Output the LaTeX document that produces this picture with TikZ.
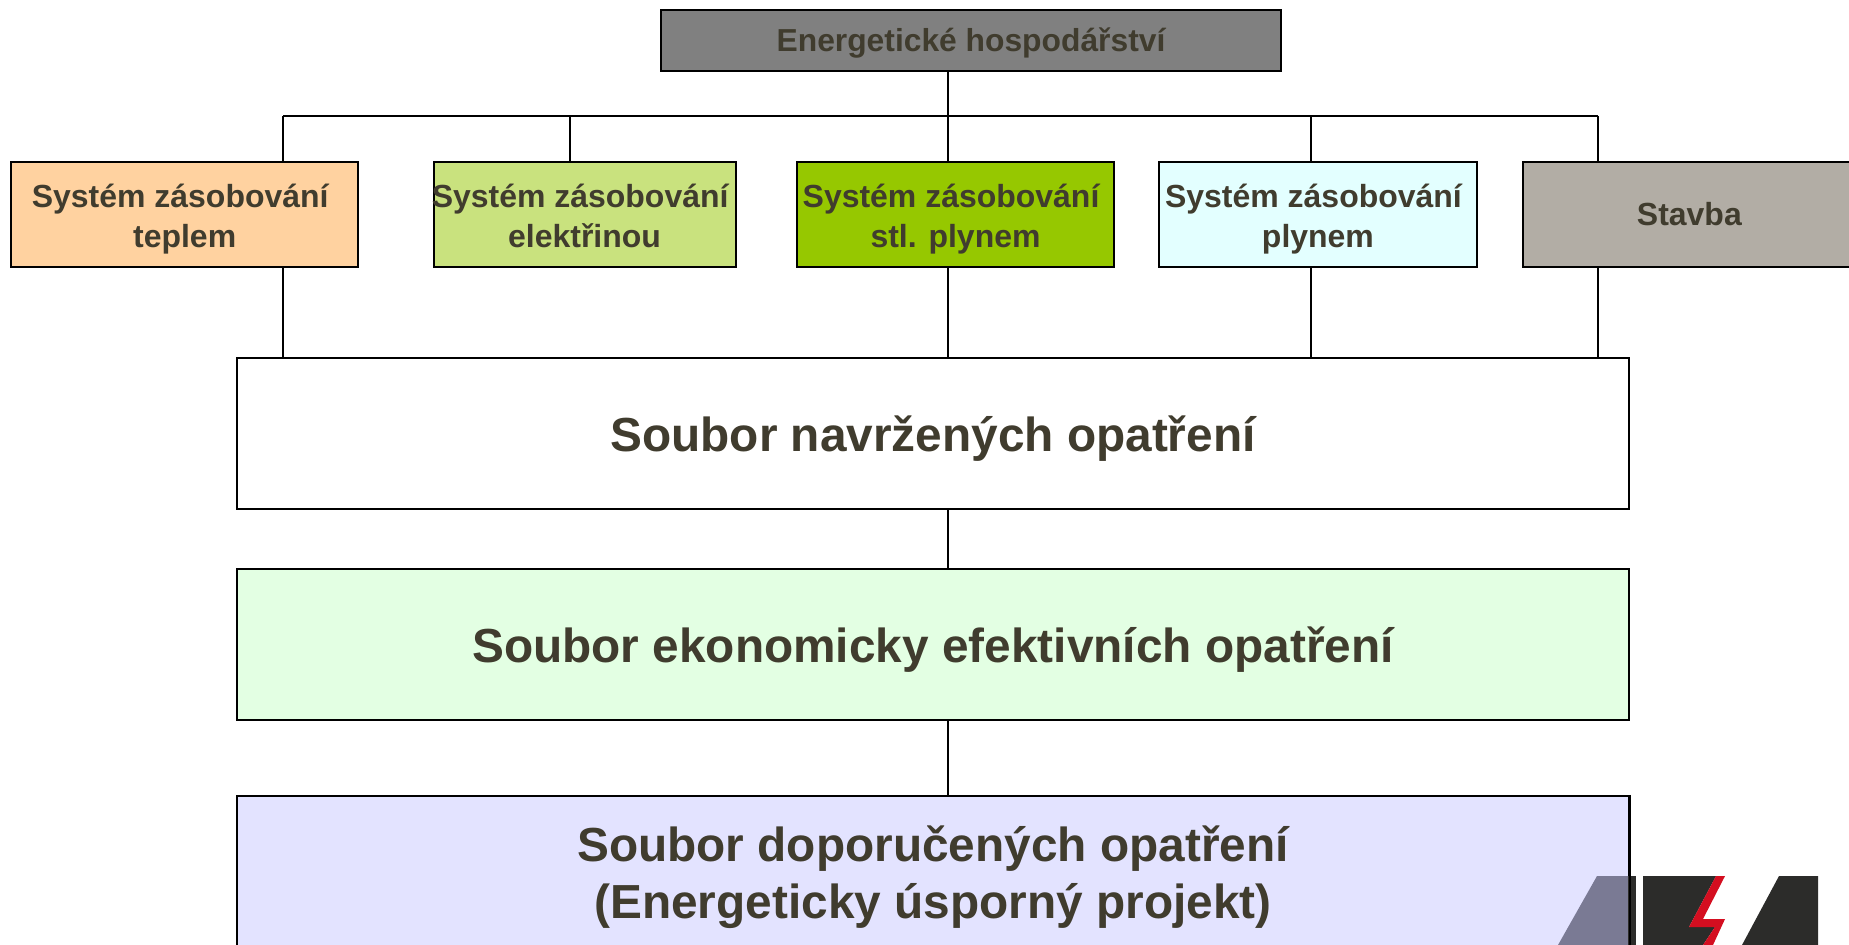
\documentclass[tikz,border=0pt]{standalone}
\usepackage{fontspec}
\setmainfont{Liberation Sans}
\usepackage{xcolor}
\usetikzlibrary{positioning}
\definecolor{mytext}{HTML}{403C2E}
\definecolor{mylogo}{HTML}{2C2C2A}
\definecolor{myred}{HTML}{D40E20}
\newcommand{\mytop}{\vrule height0.96\baselineskip width 0pt\relax}
\newcommand{\mywide}[1]{\mytop\makebox[0pt]{#1\ }}
\tikzset{
    mynode/.style={rectangle,draw=black,line width=1.1pt,text=mytext,font=\bfseries,align=center,inner sep=0pt},
    mysmall/.style={mynode,minimum height=2.1cm,font=\fontsize{18.2}{22.4}\selectfont\bfseries},
    mybig/.style={mynode,minimum width=27.84cm,minimum height=3.02cm,font=\fontsize{27.2}{32}\selectfont\bfseries},
    myline/.style={draw=black,line width=1.1pt}
}

\begin{document}
\begin{tikzpicture}[x=0.02cm,y=-0.02cm,on grid]
    \useasboundingbox (0,0) rectangle (1849,945);
    \clip (0,0) rectangle (1849,945);
    \fill[white] (0,0) rectangle (1849,945);
    \node[mynode,minimum width=12.4cm,minimum height=1.22cm,fill={rgb,255:red,128;green,128;blue,128},font=\fontsize{18.1}{19.5}\selectfont\bfseries] (11) at (971,40.5) {\mytop Energetické hospodářství\strut};
    \node[mysmall,minimum width=6.94cm,fill={rgb,255:red,255;green,210;blue,160}] (21) [below left=3.48cm and 15.73cm of 11] {\mywide{Systém zásobování}\\teplem\strut};
    \node[mysmall,minimum width=6.04cm,fill={rgb,255:red,201;green,226;blue,126}] (22) [right=8cm of 21] {\mywide{Systém zásobování}\\elektřinou\strut};
    \node[mysmall,minimum width=6.34cm,fill={rgb,255:red,150;green,200;blue,0}] (23) [right=7.42cm of 22] {\mywide{Systém zásobování}\\stl. plynem\strut};
    \node[mysmall,minimum width=6.36cm,fill={rgb,255:red,227;green,255;blue,255}] (24) [right=7.25cm of 23] {\mywide{Systém zásobování}\\plynem\strut};
    \node[mysmall,minimum width=6.66cm,fill={rgb,255:red,178;green,173;blue,165},font=\fontsize{18.2}{19}\selectfont\bfseries] (25) [right=7.43cm of 24] {\mytop Stavba\strut};
    \node[mybig,fill=white] (31) [below right=4.38cm and 14.97cm of 21] {\mytop Soubor navržených opatření\strut};
    \node[mybig,fill={rgb,255:red,227;green,255;blue,227}] (32) [below=4.22cm of 31] {\mytop Soubor ekonomicky efektivních opatření\strut};
    \node[mybig,fill={rgb,255:red,227;green,227;blue,255}] (33) [below=4.54cm of 32] {\mytop Soubor doporučených opatření\\(Energeticky úsporný projekt)\strut};
    \coordinate (t1) at (283,116);
    \coordinate (t2) at (570,116);
    \coordinate (t3) at (948,116);
    \coordinate (t4) at (1311,116);
    \coordinate (t5) at (1598,116);
    \draw[myline] (t1) -- (t5);
    \path (t3 |- 11.south) edge [myline] (t3)
          (t1) edge [myline] (t1 |- 21.north)
          (t2) edge [myline] (t2 |- 22.north)
          (t3) edge [myline] (t3 |- 23.north)
          (t4) edge [myline] (t4 |- 24.north)
          (t5) edge [myline] (t5 |- 25.north)
          (t1 |- 21.south) edge [myline] (t1 |- 31.north)
          (t3 |- 23.south) edge [myline] (t3 |- 31.north)
          (t4 |- 24.south) edge [myline] (t4 |- 31.north)
          (t5 |- 25.south) edge [myline] (t5 |- 31.north)
          (t3 |- 31.south) edge [myline] (t3 |- 32.north)
          (t3 |- 32.south) edge [myline] (t3 |- 33.north);
    \fill[fill={rgb,255:red,122;green,122;blue,148}] (1597,876) -- (1628,876) -- (1628,945) -- (1558,945) -- cycle;
    \fill[mylogo] (1628,876) -- (1636,876) -- (1636,945) -- (1628,945) -- cycle;
    \fill[mylogo] (1643,876) -- (1716,876) -- (1689,927) -- (1715,927) -- (1703,945) -- (1643,945) -- cycle;
    \fill[mylogo] (1779,876) -- (1818,876) -- (1818,945) -- (1742,945) -- cycle;
    \fill[myred] (1716,876) -- (1725,876) -- (1703,919) -- (1725,919) -- (1713,945) -- (1703,945) -- (1715,927) -- (1689,927) -- cycle;
    \draw[myline] (33.north east) -- (33.south east);
\end{tikzpicture}
\end{document}
